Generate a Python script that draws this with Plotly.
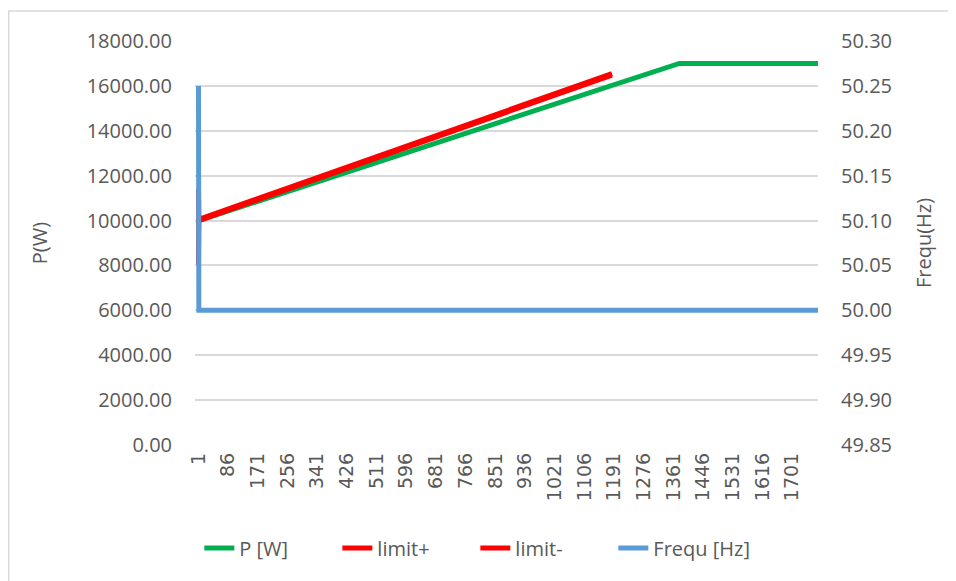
import plotly.graph_objects as go

# ---- data ----
# sample index (category axis 1..1775)
idx_p = [1, 2, 1378, 1775]
p_w = [10000, 10000, 17000, 17000]

idx_lim = [1, 2, 1185]
limit_plus = [11400, 10050, 16550]
limit_minus = [8050, 10000, 16480]

idx_f = [1, 2, 1775]
frequ_hz = [50.25, 50.00, 50.00]

x_ticks = [1, 86, 171, 256, 341, 426, 511, 596, 681, 766, 851, 936,
           1021, 1106, 1191, 1276, 1361, 1446, 1531, 1616, 1701]

# ---- style ----
GREY = '#595959'
GRID = '#d9d9d9'
FONT = 'Open Sans, Noto Sans, sans-serif'
LW = 5

fig = go.Figure()

fig.add_trace(go.Scatter(x=idx_p, y=p_w, name='P [W]', mode='lines',
                         line=dict(color='#00b050', width=LW)))
fig.add_trace(go.Scatter(x=idx_lim, y=limit_plus, name='limit+', mode='lines',
                         line=dict(color='#ff0000', width=LW)))
fig.add_trace(go.Scatter(x=idx_lim, y=limit_minus, name='limit-', mode='lines',
                         line=dict(color='#ff0000', width=LW)))
fig.add_trace(go.Scatter(x=idx_f, y=frequ_hz, name='Frequ [Hz]', mode='lines',
                         line=dict(color='#5b9bd5', width=LW), yaxis='y2'))

# page body adds an 8px offset, margins compensate for it
fig.update_layout(
    width=956, height=581,
    margin=dict(l=186.5, r=146, t=33, b=144),
    paper_bgcolor='white', plot_bgcolor='white',
    font=dict(family=FONT, color=GREY, size=20),
    showlegend=True,
    legend=dict(orientation='h', x=0.45, xanchor='center', y=-0.255, yanchor='middle',
                font=dict(size=20, color=GREY), bgcolor='rgba(0,0,0,0)',
                entrywidth=93, tracegroupgap=0),
    xaxis=dict(range=[-9, 1775], tickmode='array', tickvals=x_ticks,
               ticktext=[str(v) for v in x_ticks], tickangle=-90,
               tickfont=dict(family='DejaVu Sans', size=19, color=GREY),
               showgrid=False, zeroline=False, showline=False, ticks='',
               ticklabelstandoff=3, automargin=False),
    yaxis=dict(range=[0, 18000], dtick=2000, tickformat='.2f',
               showgrid=True, gridcolor=GRID, gridwidth=1.5, zeroline=False,
               showline=False, ticks='', ticklabelstandoff=22, automargin=False,
               tickfont=dict(size=20, color=GREY),
               title=dict(text='P(W)', font=dict(size=20, color=GREY), standoff=33)),
    yaxis2=dict(range=[49.85, 50.30], dtick=0.05, tickformat='.2f',
                overlaying='y', side='right', showgrid=False, zeroline=False,
                showline=False, ticks='', ticklabelstandoff=22, automargin=False,
                tickfont=dict(size=20, color=GREY),
                title=dict(text='Frequ(Hz)', font=dict(size=20, color=GREY), standoff=25)),
)

# chart-area border
fig.add_shape(type='rect', xref='paper', yref='paper',
              x0=-0.299, y0=-0.4, x1=1.25, y1=1.074,
              line=dict(color=GRID, width=1.5), fillcolor='rgba(0,0,0,0)', layer='below')

fig.write_html("out.html")
